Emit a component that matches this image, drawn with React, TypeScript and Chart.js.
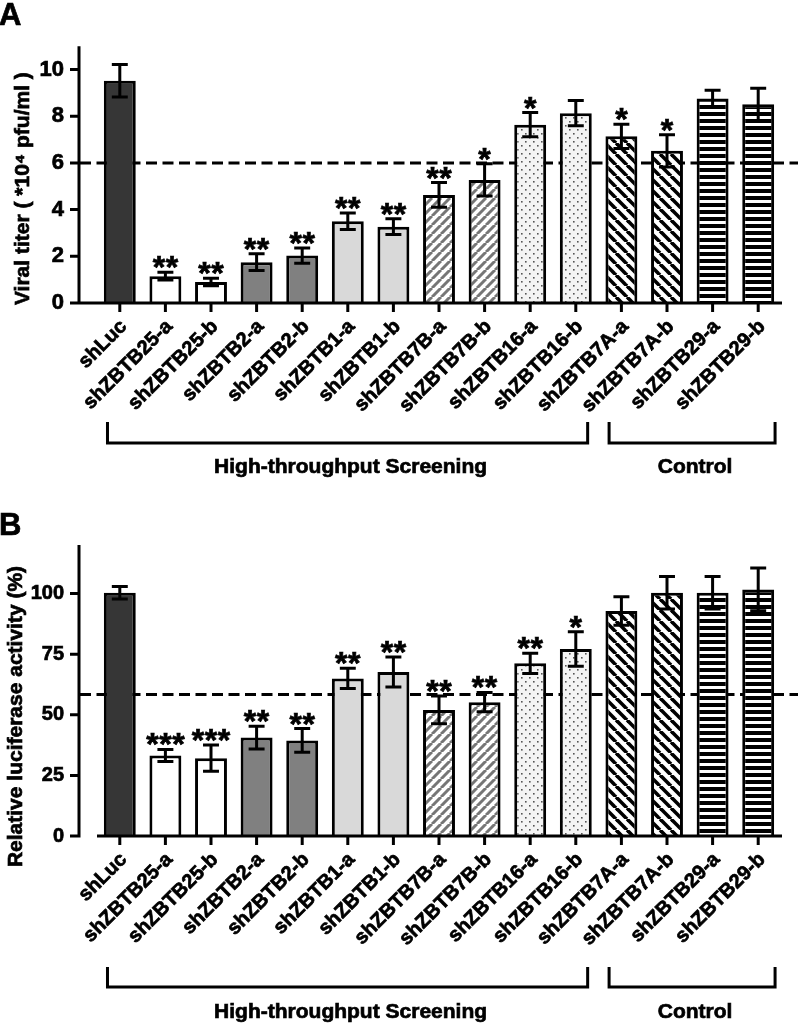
import React, { useEffect, useRef } from 'react';
import { Chart, registerables } from 'chart.js';

Chart.register(...registerables);

// ---------- data ----------
const categories = [
  'shLuc', 'shZBTB25-a', 'shZBTB25-b', 'shZBTB2-a', 'shZBTB2-b', 'shZBTB1-a', 'shZBTB1-b',
  'shZBTB7B-a', 'shZBTB7B-b', 'shZBTB16-a', 'shZBTB16-b', 'shZBTB7A-a', 'shZBTB7A-b',
  'shZBTB29-a', 'shZBTB29-b',
];

const titerValues = [9.52, 1.15, 0.9, 1.75, 2.03, 3.5, 3.27, 4.63, 5.27, 7.64, 8.13, 7.14, 6.52, 8.76, 8.51];
const titerErrors = [0.7, 0.17, 0.16, 0.36, 0.33, 0.35, 0.34, 0.53, 0.69, 0.52, 0.54, 0.52, 0.69, 0.35, 0.69];
const titerStars = ['', '**', '**', '**', '**', '**', '**', '**', '*', '*', '', '*', '*', '', ''];
const titerThreshold = 6;
const titerTicks = [0, 2, 4, 6, 8, 10];
const titerMax = 11;

const lucValues = [100.3, 33.2, 32.1, 40.6, 39.4, 65.0, 67.6, 52.0, 55.2, 71.2, 77.1, 92.8, 100.3, 100.3, 101.7];
const lucErrors = [2.6, 2.5, 5.4, 4.7, 4.9, 4.2, 6.2, 5.7, 4.0, 4.2, 7.1, 5.9, 6.7, 6.7, 8.8];
const lucStars = ['', '***', '***', '**', '**', '**', '**', '**', '**', '**', '*', '', '', '', ''];
const lucThreshold = 58.3;
const lucTicks = [0, 25, 50, 75, 100];
const lucMax = 120;

const groupLabels = ['High-throughput Screening', 'Control'];
const groupFirst = [0, 11];
const groupLast = [10, 14];

const fillKinds = [
  'dark', 'white', 'white', 'gray', 'gray', 'light', 'light',
  'grayDiag', 'grayDiag', 'dots', 'dots', 'blackDiag', 'blackDiag', 'hstripe', 'hstripe',
];

// ---------- styling helpers ----------
const FONT = '"Liberation Sans", Arial, Helvetica, sans-serif';
const TEXT_STROKE = 0.7;

function makeFill(kind: string): any {
  if (kind === 'dark') return '#363636';
  if (kind === 'white') return '#ffffff';
  if (kind === 'gray') return '#808080';
  if (kind === 'light') return '#d9d9d9';
  const c = document.createElement('canvas');
  let ctx: CanvasRenderingContext2D;
  if (kind === 'grayDiag' || kind === 'blackDiag') {
    const s = kind === 'grayDiag' ? 9 : 11;
    c.width = s; c.height = s;
    ctx = c.getContext('2d')!;
    ctx.fillStyle = '#ffffff';
    ctx.fillRect(0, 0, s, s);
    ctx.strokeStyle = kind === 'grayDiag' ? '#767676' : '#000000';
    ctx.lineWidth = kind === 'grayDiag' ? 3 : 3.6;
    for (const o of [-s, 0, s]) {
      ctx.beginPath();
      if (kind === 'grayDiag') {
        ctx.moveTo(o, s); ctx.lineTo(o + s, 0);
      } else {
        ctx.moveTo(o, 0); ctx.lineTo(o + s, s);
      }
      ctx.stroke();
    }
  } else if (kind === 'hstripe') {
    c.width = 8; c.height = 7;
    ctx = c.getContext('2d')!;
    ctx.fillStyle = '#ffffff';
    ctx.fillRect(0, 0, 8, 7);
    ctx.fillStyle = '#000000';
    ctx.fillRect(0, 0, 8, 4);
  } else {
    c.width = 8; c.height = 8;
    ctx = c.getContext('2d')!;
    ctx.fillStyle = '#f4f4f4';
    ctx.fillRect(0, 0, 8, 8);
    ctx.fillStyle = '#555555';
    ctx.fillRect(1, 1, 1.6, 1.6);
    ctx.fillRect(5, 5, 1.6, 1.6);
  }
  return document.createElement('canvas').getContext('2d')!.createPattern(c, 'repeat');
}

interface PanelCfg {
  letter: string;
  letterBaseline: number;
  yTitle: string;
  yTitleX: number;
  yTitleShift: number;
  values: number[];
  errors: number[];
  stars: string[];
  threshold: number;
  ticks: number[];
  max: number;
  height: number;
  areaTop: number;
  areaBottom: number;
  xAxisFromYAxis: boolean;
  yTickFont: number;
  bracketTop: number;
  bracketLine: number;
  groupTextY: number;
}

const panelA: PanelCfg = {
  letter: 'A', letterBaseline: 25,
  yTitle: 'Viral titer ( *10\u2074 pfu/ml )', yTitleX: 23, yTitleShift: 14,
  values: titerValues, errors: titerErrors, stars: titerStars,
  threshold: titerThreshold, ticks: titerTicks, max: titerMax,
  height: 500, areaTop: 13, areaBottom: 303, xAxisFromYAxis: true, yTickFont: 22,
  bracketTop: 119, bracketLine: 140, groupTextY: 164,
};

const panelB: PanelCfg = {
  letter: 'B', letterBaseline: 35,
  yTitle: 'Relative luciferase activity (%)', yTitleX: 16, yTitleShift: 26,
  values: lucValues, errors: lucErrors, stars: lucStars,
  threshold: lucThreshold, ticks: lucTicks, max: lucMax,
  height: 524, areaTop: 31, areaBottom: 336, xAxisFromYAxis: false, yTickFont: 20,
  bracketTop: 131, bracketLine: 151, groupTextY: 176,
};

function boldText(ctx: CanvasRenderingContext2D, t: string, x: number, y: number) {
  ctx.fillText(t, x, y);
  ctx.save();
  ctx.lineWidth = TEXT_STROKE;
  ctx.strokeText(t, x, y);
  ctx.restore();
}

function makePlugin(cfg: PanelCfg) {
  return {
    id: 'panelDecor',
    beforeDatasetsDraw(chart: any) {
      const { ctx, chartArea, scales } = chart;
      const py = scales.y.getPixelForValue(cfg.threshold);
      ctx.save();
      ctx.setLineDash([11, 5.5]);
      ctx.lineWidth = 3;
      ctx.strokeStyle = '#000';
      ctx.beginPath();
      ctx.moveTo(chartArea.left - 17, py);
      ctx.lineTo(chart.width, py);
      ctx.stroke();
      ctx.restore();
    },
    afterDatasetsDraw(chart: any) {
      const { ctx, chartArea, scales } = chart;
      const y = scales.y;
      const x = scales.x;
      const meta = chart.getDatasetMeta(0);
      ctx.save();
      ctx.strokeStyle = '#000';
      ctx.fillStyle = '#000';
      ctx.lineWidth = 3;
      ctx.lineCap = 'butt';

      // error bars
      meta.data.forEach((bar: any, i: number) => {
        const cx = bar.x;
        const yt = y.getPixelForValue(cfg.values[i] + cfg.errors[i]);
        const yb = y.getPixelForValue(cfg.values[i] - cfg.errors[i]);
        const half = bar.width / 4;
        ctx.beginPath();
        ctx.moveTo(cx, yt); ctx.lineTo(cx, yb);
        ctx.moveTo(cx - half, yt); ctx.lineTo(cx + half, yt);
        ctx.moveTo(cx - half, yb); ctx.lineTo(cx + half, yb);
        ctx.stroke();
      });

      // axes
      const axisX = chartArea.left - 18;
      ctx.beginPath();
      ctx.moveTo(axisX, chartArea.top);
      ctx.lineTo(axisX, chartArea.bottom + 1.5);
      for (const t of cfg.ticks) {
        const ty = y.getPixelForValue(t);
        ctx.moveTo(axisX - 9, ty);
        ctx.lineTo(axisX, ty);
      }
      ctx.moveTo(cfg.xAxisFromYAxis ? axisX - 1.5 : chartArea.left, chartArea.bottom);
      ctx.lineTo(chartArea.right + 1, chartArea.bottom);
      meta.data.forEach((bar: any) => {
        ctx.moveTo(bar.x, chartArea.bottom);
        ctx.lineTo(bar.x, chartArea.bottom + 9);
      });
      ctx.stroke();

      // significance stars
      ctx.font = `bold 32px ${FONT}`;
      ctx.textAlign = 'center';
      ctx.textBaseline = 'alphabetic';
      const m = ctx.measureText('*');
      meta.data.forEach((bar: any, i: number) => {
        const s = cfg.stars[i];
        if (!s) return;
        const yt = y.getPixelForValue(cfg.values[i] + cfg.errors[i]);
        const base = yt - 4 - m.actualBoundingBoxDescent;
        for (let k = 0; k < s.length; k++) {
          const sx = bar.x + (k - (s.length - 1) / 2) * 13;
          boldText(ctx, '*', sx, base);
        }
      });

      // group brackets
      const w = x.getPixelForValue(1) - x.getPixelForValue(0);
      const offsL = [-0.27, -0.27];
      const offsR = [0.26, 0.37];
      ctx.font = `bold 21px ${FONT}`;
      ctx.textBaseline = 'middle';
      for (let g = 0; g < groupLabels.length; g++) {
        const x0 = x.getPixelForValue(groupFirst[g]) + offsL[g] * w;
        const x1 = x.getPixelForValue(groupLast[g]) + offsR[g] * w;
        const yTop = chartArea.bottom + cfg.bracketTop;
        const yLine = chartArea.bottom + cfg.bracketLine;
        ctx.beginPath();
        ctx.moveTo(x0, yTop);
        ctx.lineTo(x0, yLine);
        ctx.lineTo(x1, yLine);
        ctx.lineTo(x1, yTop);
        ctx.stroke();
        boldText(ctx, groupLabels[g], (x0 + x1) / 2 + 3, chartArea.bottom + cfg.groupTextY);
      }

      // y-axis title
      ctx.save();
      ctx.translate(cfg.yTitleX, (chartArea.top + chartArea.bottom) / 2 + cfg.yTitleShift);
      ctx.rotate(-Math.PI / 2);
      ctx.font = `bold 21px ${FONT}`;
      ctx.textAlign = 'center';
      ctx.textBaseline = 'middle';
      boldText(ctx, cfg.yTitle, 0, 0);
      ctx.restore();

      // panel letter
      ctx.font = `bold 31px ${FONT}`;
      ctx.textAlign = 'left';
      ctx.textBaseline = 'alphabetic';
      boldText(ctx, cfg.letter, -1, cfg.letterBaseline);

      ctx.restore();
    },
  };
}

function Panel({ cfg, top }: { cfg: PanelCfg; top: number }) {
  const ref = useRef<HTMLCanvasElement>(null);
  useEffect(() => {
    const canvas = ref.current!;
    const fills = fillKinds.map(makeFill);
    const chart = new Chart(canvas, {
      type: 'bar',
      data: {
        labels: categories,
        datasets: [{
          data: cfg.values,
          backgroundColor: fills,
          borderColor: '#000',
          borderWidth: 3,
          categoryPercentage: 1,
          barPercentage: 0.7,
        }],
      },
      options: {
        responsive: false,
        animation: false,
        events: [],
        layout: { padding: { top: cfg.areaTop, right: 17, left: 0, bottom: 0 } },
        plugins: { legend: { display: false }, tooltip: { enabled: false } },
        scales: {
          x: {
            type: 'category',
            offset: true,
            grid: { display: false, drawTicks: false },
            border: { display: false },
            ticks: {
              autoSkip: false,
              maxRotation: 45,
              minRotation: 45,
              padding: 12,
              labelOffset: 4,
              color: '#000',
              textStrokeColor: '#000',
              textStrokeWidth: TEXT_STROKE,
              font: { family: FONT, size: 20, weight: 'bold' },
            },
            afterFit: (s: any) => { s.height = cfg.height - cfg.areaBottom; },
          },
          y: {
            min: 0,
            max: cfg.max,
            grid: { display: false, drawTicks: false },
            border: { display: false },
            afterBuildTicks: (s: any) => { s.ticks = cfg.ticks.map((v) => ({ value: v })); },
            ticks: {
              padding: 33,
              color: '#000',
              textStrokeColor: '#000',
              textStrokeWidth: TEXT_STROKE,
              font: { family: FONT, size: cfg.yTickFont, weight: 'bold' },
            },
            afterFit: (s: any) => { s.width = 97; },
          },
        },
      } as any,
      plugins: [makePlugin(cfg)],
    });
    return () => chart.destroy();
  }, [cfg]);
  return (
    <canvas
      ref={ref}
      width={798}
      height={cfg.height}
      style={{ position: 'absolute', left: 0, top, width: 798, height: cfg.height }}
    />
  );
}

export default function App() {
  return (
    <div style={{ position: 'absolute', left: 0, top: 0, width: 798, height: 1024, background: '#fff' }}>
      <Panel cfg={panelA} top={0} />
      <Panel cfg={panelB} top={500} />
    </div>
  );
}
